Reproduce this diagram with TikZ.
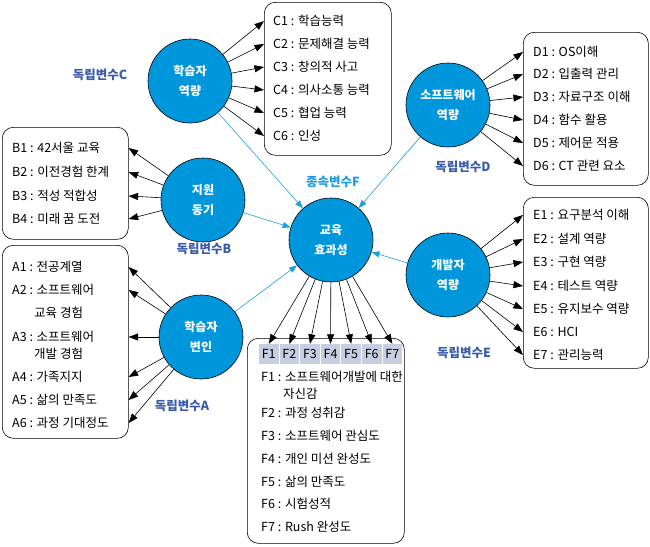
\documentclass[tikz,border=0pt]{standalone}
\usepackage{fontspec}
\setmainfont{Noto Sans CJK KR}
\usetikzlibrary{arrows.meta}
\definecolor{cfill}{HTML}{0096DB}
\definecolor{lab}{HTML}{3A5BA9}
\definecolor{dep}{HTML}{1E9BE0}
\definecolor{cell}{HTML}{C6CFE2}
\definecolor{blueln}{HTML}{1BA1E2}
\begin{document}
\begin{tikzpicture}[x=1pt,y=-1pt,
 circ/.style={circle,draw=black,line width=0.6pt,fill=cfill,minimum size=84pt,inner sep=0pt,text=white,font=\fontsize{12}{20}\selectfont\bfseries,align=center},
 listbox/.style={draw=black,line width=0.6pt,rounded corners=11pt,anchor=north west,inner sep=0pt},
 item/.style={anchor=west,inner sep=0pt,font=\fontsize{12.5}{14}\selectfont},
 lbl/.style={text=lab,font=\fontsize{12.5}{14}\selectfont\bfseries,inner sep=0pt},
 arr/.style={-{Triangle[length=9.5pt,width=7pt]},line width=0.6pt},
 barr/.style={-{Triangle[length=8pt,width=6pt]},draw=blueln,line width=0.6pt},
 cellbox/.style={fill=cell,minimum width=19.5pt,minimum height=20pt,inner sep=0pt,font=\fontsize{12.5}{14}\selectfont}
]
\useasboundingbox (0,0) rectangle (650,546);

% list boxes
\node[listbox,minimum width=127pt,minimum height=153pt] (Cbox) at (264,2) {};
\node[listbox,minimum width=125pt,minimum height=153pt] (Dbox) at (523,32) {};
\node[listbox,minimum width=126pt,minimum height=112pt] (Bbox) at (2,127) {};
\node[listbox,minimum width=126pt,minimum height=193pt] (Abox) at (2,245) {};
\node[listbox,minimum width=125pt,minimum height=171pt] (Ebox) at (523,197) {};
\node[listbox,minimum width=157pt,minimum height=205pt] (Fbox) at (247,338) {};

% C items
\node[item] (c1) at (273,21) {C1 : 학습능력};
\node[item] (c2) at (273,44) {C2 : 문제해결 능력};
\node[item] (c3) at (273,67) {C3 : 창의적 사고};
\node[item] (c4) at (273,90) {C4 : 의사소통 능력};
\node[item] (c5) at (273,113) {C5 : 협업 능력};
\node[item] (c6) at (273,136) {C6 : 인성};
% D items
\node[item] (d1) at (533,52) {D1 : OS이해};
\node[item] (d2) at (533,74) {D2 : 입출력 관리};
\node[item] (d3) at (533,97) {D3 : 자료구조 이해};
\node[item] (d4) at (533,120) {D4 : 함수 활용};
\node[item] (d5) at (533,143) {D5 : 제어문 적용};
\node[item] (d6) at (533,166) {D6 : CT 관련 요소};
% B items
\node[item] (b1) at (12,148) {B1 : 42서울 교육};
\node[item] (b2) at (12,172) {B2 : 이전경험 한계};
\node[item] (b3) at (12,196) {B3 : 적성 적합성};
\node[item] (b4) at (12,219) {B4 : 미래 꿈 도전};
% A items
\node[item] (a1) at (12,267) {A1 : 전공계열};
\node[item] (a2) at (12,290) {A2 : 소프트웨어};
\node[item] (a2b) at (34,313) {교육 경험};
\node[item] (a3) at (12,337) {A3 : 소프트웨어};
\node[item] (a3b) at (34,354) {개발 경험};
\node[item] (a4) at (12,377) {A4 : 가족지지};
\node[item] (a5) at (12,400) {A5 : 삶의 만족도};
\node[item] (a6) at (12,423) {A6 : 과정 기대정도};
% E items
\node[item] (e1) at (533,215) {E1 : 요구분석 이해};
\node[item] (e2) at (533,239) {E2 : 설계 역량};
\node[item] (e3) at (533,262) {E3 : 구현 역량};
\node[item] (e4) at (533,286) {E4 : 테스트 역량};
\node[item] (e5) at (533,309) {E5 : 유지보수 역량};
\node[item] (e6) at (533,332) {E6 : HCI};
\node[item] (e7) at (533,355) {E7 : 관리능력};
% F header cells
\foreach \i in {1,...,7}{
  \node[cellbox] (h\i) at ({259+9.75+20.6*(\i-1)},354) {F\i};
}
% F items
\node[item] (f1) at (261,377) {F1 : 소프트웨어개발에 대한};
\node[item] (f1b) at (283,394) {자신감};
\node[item] (f2) at (261,413) {F2 : 과정 성취감};
\node[item] (f3) at (261,436) {F3 : 소프트웨어 관심도};
\node[item] (f4) at (261,459) {F4 : 개인 미션 완성도};
\node[item] (f5) at (261,482) {F5 : 삶의 만족도};
\node[item] (f6) at (261,504) {F6 : 시험성적};
\node[item] (f7) at (261,527) {F7 : Rush 완성도};

% circles
\node[circ] (Cc) at (190,81) {학습자\\역량};
\node[circ] (Bc) at (203,200) {지원\\동기};
\node[circ] (Ac) at (201,337) {학습자\\변인};
\node[circ] (Fc) at (331,240) {교육\\효과성};
\node[circ] (Dc) at (448,105) {소프트웨어\\역량};
\node[circ] (Ec) at (448,275) {개발자\\역량};

% labels
\node[lbl] (lc) at (100,75) {독립변수C};
\node[lbl] (ld) at (463,167) {독립변수D};
\node[lbl] (lb) at (204,249) {독립변수B};
\node[lbl] (la) at (182,406) {독립변수A};
\node[lbl] (le) at (464,353) {독립변수E};
\node[lbl,text=dep] (lf) at (333,182) {종속변수F};

% black arrows
\foreach \n in {c1,c2,c3,c4,c5,c6}{ \draw[arr] (Cc) -- (Cbox.west |- \n.west); }
\foreach \n in {d1,d2,d3,d4,d5,d6}{ \draw[arr] (Dc) -- (Dbox.west |- \n.west); }
\foreach \n in {e1,e2,e3,e4,e5,e6,e7}{ \draw[arr] (Ec) -- (Ebox.west |- \n.west); }
\foreach \n in {b1,b2,b3,b4}{ \draw[arr] (Bc) -- (Bbox.east |- \n.east); }
\foreach \n in {a1,a2,a3,a4,a5,a6}{ \draw[arr] (Ac) -- (Abox.east |- \n.east); }
\foreach \i in {1,...,7}{ \draw[arr] (Fc) -- (h\i.north); }

% blue arrows
\draw[barr] (Cc) -- (Fc);
\draw[barr] (Bc) -- (Fc);
\draw[barr] (Ac) -- (Fc);
\draw[barr] (Dc) -- (Fc);
\draw[barr] (Ec) -- (Fc);
\end{tikzpicture}
\end{document}
